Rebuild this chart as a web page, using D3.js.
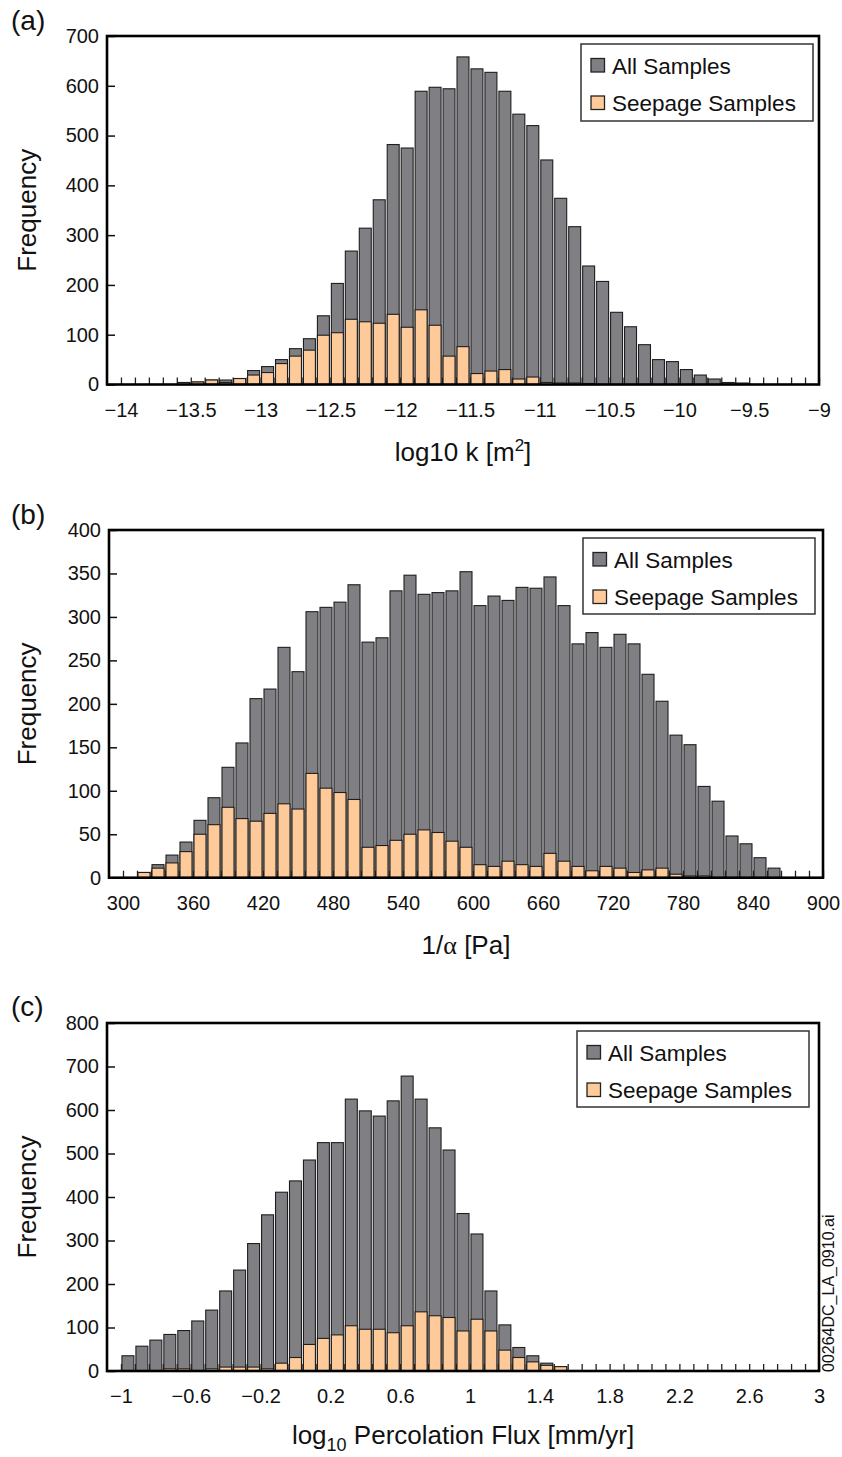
<!DOCTYPE html>
<html>
<head>
<meta charset="utf-8">
<script src="https://cdn.jsdelivr.net/npm/d3@7"></script>
<style>
  html, body { margin: 0; padding: 0; background: #fff; }
  svg { display: block; }
  text { font-family: "Liberation Sans", Arial, Helvetica, sans-serif; fill: #111; }
</style>
</head>
<body>
<svg id="fig" width="842" height="1457"></svg>
<script>
// ---- (a) log10 permeability, bins of 0.1 starting at -14.0 ----
const kBinStart = -14.0, kBinStep = 0.1;
const kAll  = [0,0,0,0,4,5,9,9,12,28,36,50,72,92,138,203,268,314,371,482,
               475,589,597,594,658,634,627,589,543,520,451,374,317,238,207,145,116,80,50,46,
               30,19,11,4,3,0,0,0,0,0];
const kSeep = [0,0,0,0,4,5,9,4,12,19,24,42,57,69,99,104,131,126,123,141,
               115,150,119,57,76,22,27,30,11,15,4,3,3,2,0,0,0,0,0,0,
               0,0,0,0,0,0,0,0,0,0];
const kTicks = [-14,-13.5,-13,-12.5,-12,-11.5,-11,-10.5,-10,-9.5,-9];
const kFreqTicks = [0,100,200,300,400,500,600,700];

// ---- (b) 1/alpha, bins of 12 Pa starting at 300 ----
const aBinStart = 300, aBinStep = 12;
const aAll  = [0,6,15,26,41,66,92,127,155,206,217,265,237,306,311,317,337,271,276,330,
               348,326,328,330,352,313,324,319,334,333,346,313,269,282,265,280,269,234,203,164,
               153,105,88,48,39,23,11,0,0,0];
const aSeep = [0,6,11,17,30,50,61,81,68,65,74,85,79,120,103,98,90,35,37,43,
               50,55,52,42,35,15,13,19,15,13,28,19,13,8,13,11,6,9,11,4,
               2,2,0,0,0,0,0,0,0,0];
const aTicks = [300,360,420,480,540,600,660,720,780,840,900];
const aFreqTicks = [0,50,100,150,200,250,300,350,400];

// ---- (c) log10 percolation flux, bins of 0.08 starting at -1 ----
const fBinStart = -1.0, fBinStep = 0.08;
const fAll  = [35,57,71,84,93,115,140,184,232,293,359,411,437,485,525,525,625,598,586,621,
               678,625,559,508,362,315,184,106,54,35,18,10,0,0,0,0,0,0,0,0,
               0,0,0,0,0,0,0,0,0,0];
const fSeep = [0,0,0,5,5,0,5,9,9,9,5,18,31,61,75,83,104,96,96,88,
               104,136,127,123,92,119,92,48,31,21,13,10,0,0,0,0,0,0,0,0,
               0,0,0,0,0,0,0,0,0,0];
const fTicks = [-1,-0.6,-0.2,0.2,0.6,1,1.4,1.8,2.2,2.6,3];
const fFreqTicks = [0,100,200,300,400,500,600,700,800];

const seriesNames = ["All Samples", "Seepage Samples"];
const fillAll = "#807f84", fillSeep = "#ffca99";

// layout for each panel
const panels = [
  { tag: "(a)", start: kBinStart, step: kBinStep, all: kAll, seep: kSeep,
    xTicks: kTicks, yTicks: kFreqTicks, frame: {l: 107, t: 36, r: 819, b: 384.5},
    tagY: 30, titleY: 461, legend: {x: 581, y: 44, w: 232, h: 77}, title: "k" },
  { tag: "(b)", start: aBinStart, step: aBinStep, all: aAll, seep: aSeep,
    xTicks: aTicks, yTicks: aFreqTicks, frame: {l: 109, t: 530, r: 823, b: 877.7},
    tagY: 524, titleY: 954, legend: {x: 583, y: 538, w: 232, h: 76}, title: "alpha" },
  { tag: "(c)", start: fBinStart, step: fBinStep, all: fAll, seep: fSeep,
    xTicks: fTicks, yTicks: fFreqTicks, frame: {l: 107, t: 1023, r: 819, b: 1371},
    tagY: 1016, titleY: 1444, legend: {x: 577, y: 1031, w: 232, h: 76}, title: "flux" }
];

const svg = d3.select("#fig");
const fmt = d3.format("");
const tickFont = "20px", titleFont = "26px", legendFont = "22.5px";

panels.forEach(p => {
  const nb = p.all.length;
  const f = p.frame;
  // one empty bin to the left of the first data bin; right edge is the last bin edge
  const x = d3.scaleLinear()
    .domain([p.start - p.step, p.start + p.step * nb])
    .range([f.l, f.r]);
  const y = d3.scaleLinear()
    .domain([0, d3.max(p.yTicks)])
    .range([f.b, f.t]);

  const g = svg.append("g");

  // bin-edge tick marks along the bottom (inside the frame)
  const edges = d3.range(nb + 1).map(i => p.start + p.step * i);
  g.append("g")
    .attr("transform", `translate(0,${f.b})`)
    .call(d3.axisBottom(x).tickValues(edges).tickSize(-7).tickFormat(""))
    .call(s => s.select(".domain").remove())
    .call(s => s.selectAll("line").attr("stroke", "#222").attr("stroke-width", 1.3));

  // bars: total count, then seepage count on top
  const bins = p.all.map((v, i) => ({ x0: p.start + p.step * i, x1: p.start + p.step * (i + 1), all: v, seep: p.seep[i] }));
  const barX = d => x(d.x0) + 1;
  const barW = d => x(d.x1) - x(d.x0) - 2;

  g.append("g").selectAll("rect")
    .data(bins.filter(d => d.all > 0))
    .join("rect")
    .attr("x", barX).attr("width", barW)
    .attr("y", d => y(d.all)).attr("height", d => y(0) - y(d.all))
    .attr("fill", fillAll).attr("stroke", "#1e1e1e").attr("stroke-width", 1.1);

  g.append("g").selectAll("rect")
    .data(bins.filter(d => d.seep > 0))
    .join("rect")
    .attr("x", barX).attr("width", barW)
    .attr("y", d => y(d.seep)).attr("height", d => y(0) - y(d.seep))
    .attr("fill", fillSeep).attr("stroke", "#1e1e1e").attr("stroke-width", 1.1);

  // y axis with inward ticks
  g.append("g")
    .attr("transform", `translate(${f.l},0)`)
    .call(d3.axisLeft(y).tickValues(p.yTicks).tickSize(-8).tickPadding(8).tickFormat(fmt))
    .call(s => s.select(".domain").remove())
    .call(s => s.selectAll("line").attr("stroke", "#111").attr("stroke-width", 1.5))
    .call(s => s.selectAll("text").style("font-size", tickFont)
      .style("font-family", "'Liberation Sans', Arial, sans-serif").attr("fill", "#111"));

  // x tick labels
  g.append("g")
    .attr("transform", `translate(0,${f.b})`)
    .call(d3.axisBottom(x).tickValues(p.xTicks).tickSize(0).tickPadding(18).tickFormat(fmt))
    .call(s => s.select(".domain").remove())
    .call(s => s.selectAll("text").style("font-size", tickFont)
      .style("font-family", "'Liberation Sans', Arial, sans-serif").attr("fill", "#111"));

  // frame
  g.append("rect")
    .attr("x", f.l).attr("y", f.t).attr("width", f.r - f.l).attr("height", f.b - f.t)
    .attr("fill", "none").attr("stroke", "#000").attr("stroke-width", 2.6);

  // legend
  const L = p.legend;
  const lg = g.append("g").attr("transform", `translate(${L.x},${L.y})`);
  lg.append("rect").attr("width", L.w).attr("height", L.h)
    .attr("fill", "#fff").attr("stroke", "#333").attr("stroke-width", 1.5);
  [fillAll, fillSeep].forEach((c, i) => {
    const yy = 14.5 + i * 37.5;
    lg.append("rect").attr("x", 10).attr("y", yy).attr("width", 13.5).attr("height", 13.5)
      .attr("fill", c).attr("stroke", "#222").attr("stroke-width", 1.3);
    lg.append("text").attr("x", 31).attr("y", yy + 15)
      .style("font-size", legendFont).text(seriesNames[i]);
  });

  // panel tag
  g.append("text").attr("x", 11).attr("y", p.tagY).style("font-size", "28px").text(p.tag);

  // y title
  g.append("text")
    .attr("transform", `translate(27,${(f.t + f.b) / 2}) rotate(-90)`)
    .attr("text-anchor", "middle").attr("dominant-baseline", "central")
    .style("font-size", titleFont).text("Frequency");

  // x title
  const xt = g.append("text")
    .attr("x", (f.l + f.r) / 2).attr("y", p.titleY)
    .attr("text-anchor", "middle").style("font-size", titleFont);
  if (p.title === "k") {
    xt.append("tspan").text("log10 k [m");
    xt.append("tspan").attr("dy", -10).style("font-size", "17px").text("2");
    xt.append("tspan").attr("dy", 10).text("]");
  } else if (p.title === "alpha") {
    xt.append("tspan").text("1/");
    xt.append("tspan").style("font-family", "'Liberation Serif', 'Times New Roman', serif").text("\u03b1");
    xt.append("tspan").text(" [Pa]");
  } else {
    xt.append("tspan").text("log");
    xt.append("tspan").attr("dy", 7).style("font-size", "18px").text("10");
    xt.append("tspan").attr("dy", -7).text(" Percolation Flux [mm/yr]");
  }
});

// file tag along the right edge of panel (c)
svg.append("text")
  .attr("transform", "translate(834,1372) rotate(-90)")
  .attr("text-anchor", "start")
  .style("font-size", "16px").text("00264DC_LA_0910.ai");
</script>
</body>
</html>
